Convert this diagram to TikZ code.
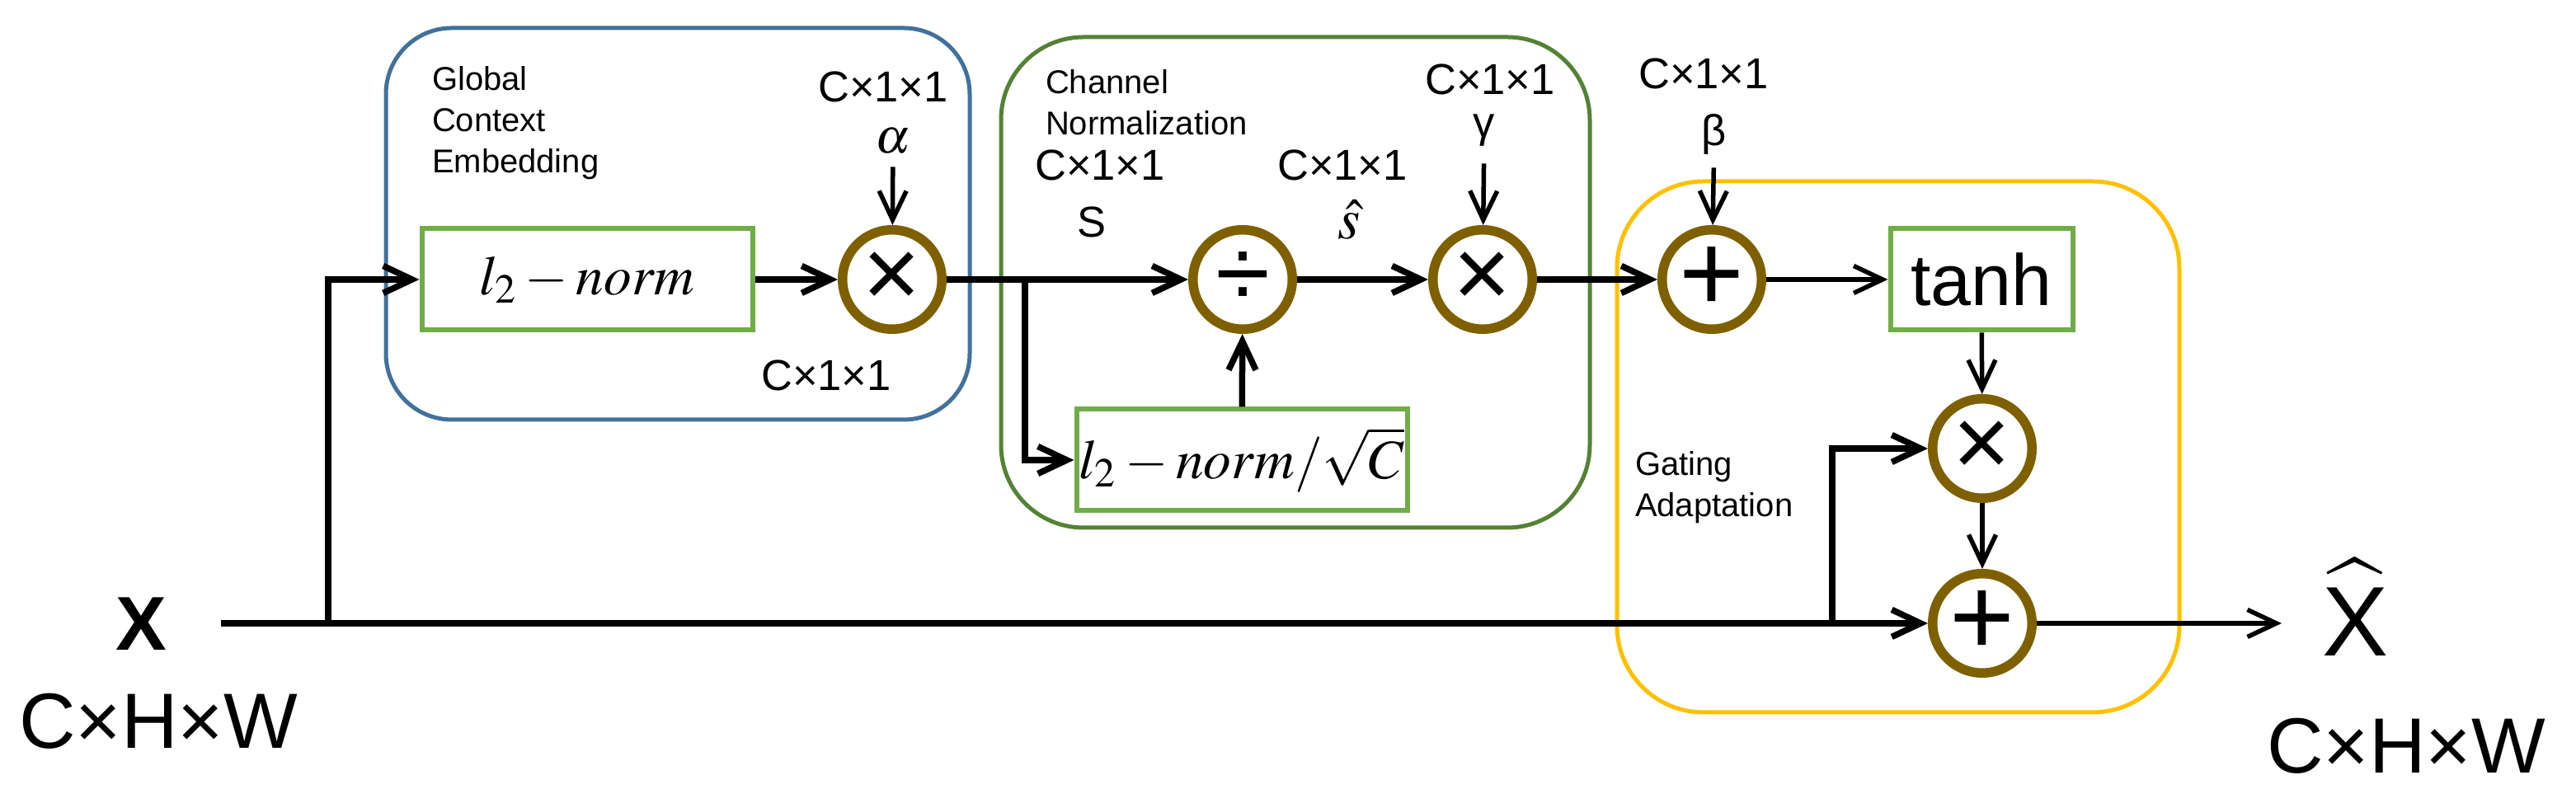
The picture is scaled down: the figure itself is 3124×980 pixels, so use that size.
\documentclass[tikz,border=0pt]{standalone}
\usepackage{mathptmx}
\usepackage[no-math]{fontspec}
\setmainfont{Liberation Sans}
\usetikzlibrary{arrows.meta}
\definecolor{grpblue}{HTML}{41719C}
\definecolor{grpgreen}{HTML}{548235}
\definecolor{grpyellow}{HTML}{FFC000}
\definecolor{boxgreen}{HTML}{70AD47}
\definecolor{opbrown}{HTML}{7F6000}
\tikzset{
  opbox/.style={draw=boxgreen, line width=1.2pt, minimum height=24.6pt, inner sep=0pt, font=\fontsize{13.5}{15}\selectfont},
  opcirc/.style={circle, draw=opbrown, line width=2.3pt, minimum size=24.1pt, inner sep=0pt, font=\fontsize{24}{24}\selectfont},
  grp/.style={line width=1pt},
  grplabel/.style={anchor=north west, align=left, inner sep=0pt, font=\fontsize{8}{10}\selectfont},
  dimlabel/.style={inner sep=0pt, font=\fontsize{10.5}{12}\selectfont},
  flow/.style={line width=1.5pt, -{Straight Barb[length=7pt,width=6.6pt]}},
  lightflow/.style={line width=1.1pt, -{Straight Barb[length=7pt,width=6.6pt]}},
}
\begin{document}
\begin{tikzpicture}[x=0.2pt, y=-0.2pt]
  \useasboundingbox (0,0) rectangle (3124,980);
  % groups
  \draw[grp, draw=grpblue, rounded corners=16pt] (468,34) rectangle (1176,509);
  \draw[grp, draw=grpgreen, rounded corners=20pt] (1214,45) rectangle (1928,640);
  \draw[grp, draw=grpyellow, rounded corners=21pt] (1961,220) rectangle (2643,864);
  \node[grplabel] (gceLbl) at (523,80) {Global\\Context\\Embedding};
  \node[grplabel] (cnLbl) at (1267,84) {Channel\\Normalization};
  \node[grplabel] (gaLbl) at (1982,547) {Gating\\Adaptation};
  % input and output
  \node[font=\bfseries\fontsize{18.5}{20}\selectfont] (xin) at (171,757) {X};
  \node[font=\fontsize{19}{20}\selectfont] (xindim) at (192,875) {C×H×W};
  \node[font=\fontsize{24}{26}\selectfont, inner sep=0pt] (xhat) at (2856,737) {$\widehat{\mbox{X}}$};
  \node[font=\fontsize{19}{20}\selectfont] (xoutdim) at (2918,905) {C×H×W};
  % operators
  \node[opbox, minimum width=80.2pt] (normA) at (712,339) {$l_2-norm$};
  \node[opcirc] (mulA) at (1082,339) {×};
  \node[opcirc] (div) at (1507,339) {÷};
  \node[opbox, minimum width=80.2pt] (normC) at (1506,558) {$l_2-norm/\sqrt{C}$};
  \node[opcirc] (mulG) at (1798,339) {×};
  \node[opcirc, font=\fontsize{27}{27}\selectfont] (addB) at (2076,339) {+};
  \node[opbox, minimum width=44.2pt, font=\fontsize{17.6}{20}\selectfont] (tanh) at (2403,339) {tanh};
  \node[opcirc] (mulT) at (2404,544) {×};
  \node[opcirc, font=\fontsize{27}{27}\selectfont] (addO) at (2404,756) {+};
  % parameters and sizes
  \node[dimlabel] (dimA) at (1071,105) {C×1×1};
  \node[inner sep=0pt, font=\fontsize{12}{14}\selectfont] (alpha) at (1083,171) {$\alpha$};
  \node[dimlabel] (dimAout) at (1002,455) {C×1×1};
  \node[dimlabel] (dimS) at (1334,200) {C×1×1};
  \node[dimlabel] (sLbl) at (1324,269) {S};
  \node[dimlabel] (dimShat) at (1628,200) {C×1×1};
  \node[inner sep=0pt, font=\fontsize{14}{16}\selectfont] (shat) at (1636,266) {$\hat{s}$};
  \node[dimlabel] (dimG) at (1807,96) {C×1×1};
  \node[dimlabel] (gamma) at (1800,158) {γ};
  \node[dimlabel] (dimB) at (2066,89) {C×1×1};
  \node[dimlabel] (beta) at (2079,163) {β};
  % connectors
  \coordinate (xstart) at (268,756);
  \coordinate (splitA) at (398,756);
  \coordinate (splitC) at (1243,339);
  \coordinate (splitT) at (2222,756);
  \coordinate (xend) at (2767,756);
  \draw[flow] (xstart) -- (addO);
  \draw[flow] (splitA) |- (normA);
  \draw[flow] (normA) -- (mulA);
  \draw[flow] (mulA) -- (div);
  \draw[flow] (splitC) |- (normC);
  \draw[flow] (normC) -- (div);
  \draw[flow] (div) -- (mulG);
  \draw[flow] (mulG) -- (addB);
  \draw[lightflow] (addB) -- (tanh);
  \draw[lightflow] (tanh) -- (mulT);
  \draw[lightflow] (mulT) -- (addO);
  \draw[flow] (splitT) |- (mulT);
  \draw[lightflow] (addO) -- (xend);
  \draw[lightflow, shorten <=3pt] (alpha) -- (mulA);
  \draw[lightflow, shorten <=4pt] (gamma) -- (mulG);
  \draw[lightflow, shorten <=3pt] (beta) -- (addB);
\end{tikzpicture}
\end{document}
